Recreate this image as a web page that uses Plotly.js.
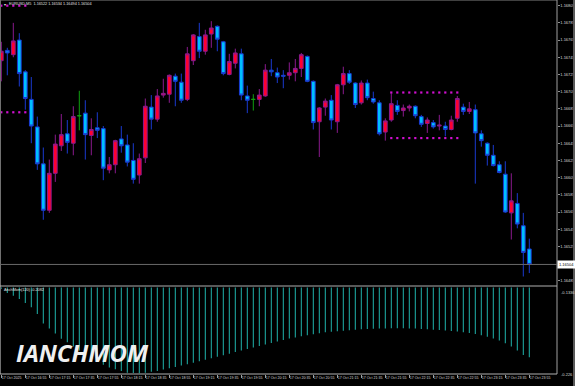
<!DOCTYPE html>
<html><head><meta charset="utf-8">
<script src="https://cdn.plot.ly/plotly-3.0.1.min.js"></script>
<style>html,body{margin:0;padding:0;background:#000;}#chart{width:575px;height:386px;}</style>
</head><body><div id="chart"></div>
<script>
const symbol = 'EURUSD,M5';
const timeLabels = ['17 Oct 2025','17 Oct 16:55','17 Oct 17:15','17 Oct 17:35','17 Oct 17:55','17 Oct 18:15','17 Oct 18:35','17 Oct 18:55','17 Oct 19:15','17 Oct 19:35','17 Oct 19:55','17 Oct 20:15','17 Oct 20:35','17 Oct 20:55','17 Oct 21:15','17 Oct 21:35','17 Oct 21:55','17 Oct 22:15','17 Oct 22:35','17 Oct 22:55','17 Oct 23:15','17 Oct 23:35','17 Oct 23:55'];

const openP = [1.16741,1.16753,1.16748,1.16765,1.16728,1.16696,1.16664,1.16621,1.16567,1.16610,
1.16642,1.16656,1.16645,1.16677,1.16680,1.16654,1.16663,1.16662,1.16614,1.16620,
1.16650,1.16643,1.16625,1.16608,1.16628,1.16687,1.16673,1.16701,1.16702,1.16723,
1.16716,1.16696,1.16741,1.16769,1.16752,1.16772,1.16781,1.16763,1.16725,1.16738,
1.16749,1.16700,1.16696,1.16696,1.16700,1.16730,1.16727,1.16724,1.16724,1.16727,
1.16732,1.16746,1.16717,1.16670,1.16687,1.16695,1.16670,1.16713,1.16726,1.16715,
1.16692,1.16715,1.16697,1.16692,1.16658,1.16672,1.16689,1.16683,1.16686,1.16688,
1.16676,1.16668,1.16669,1.16665,1.16665,1.16661,1.16674,1.16687,1.16682,1.16684,
1.16656,1.16645,1.16631,1.16620,1.16609,1.16564,1.16575,1.16549,1.16522];
const highP = [1.16763,1.16756,1.16785,1.16773,1.16730,1.16722,1.16676,1.16640,1.16626,1.16655,
1.16679,1.16672,1.16688,1.16706,1.16695,1.16674,1.16681,1.16665,1.16629,1.16649,
1.16665,1.16655,1.16645,1.16633,1.16697,1.16701,1.16708,1.16720,1.16725,1.16726,
1.16726,1.16757,1.16772,1.16785,1.16777,1.16787,1.16782,1.16764,1.16749,1.16755,
1.16755,1.16712,1.16702,1.16708,1.16737,1.16743,1.16733,1.16730,1.16739,1.16743,
1.16750,1.16747,1.16718,1.16687,1.16697,1.16701,1.16714,1.16734,1.16730,1.16716,
1.16718,1.16719,1.16705,1.16695,1.16674,1.16703,1.16695,1.16690,1.16690,1.16689,
1.16678,1.16675,1.16672,1.16678,1.16670,1.16677,1.16700,1.16691,1.16693,1.16690,
1.16660,1.16646,1.16643,1.16624,1.16624,1.16610,1.16587,1.16564,1.16534];
const lowP = [1.16717,1.16724,1.16745,1.16711,1.16684,1.16645,1.16614,1.16556,1.16564,1.16600,
1.16636,1.16633,1.16631,1.16660,1.16626,1.16631,1.16651,1.16602,1.16610,1.16610,
1.16634,1.16618,1.16598,1.16598,1.16622,1.16661,1.16670,1.16698,1.16692,1.16688,
1.16692,1.16694,1.16736,1.16744,1.16748,1.16756,1.16752,1.16724,1.16724,1.16732,
1.16695,1.16680,1.16683,1.16688,1.16699,1.16723,1.16715,1.16709,1.16719,1.16717,
1.16722,1.16716,1.16661,1.16629,1.16677,1.16661,1.16657,1.16702,1.16714,1.16686,
1.16690,1.16695,1.16691,1.16654,1.16648,1.16670,1.16678,1.16676,1.16682,1.16674,
1.16664,1.16657,1.16662,1.16660,1.16653,1.16660,1.16670,1.16678,1.16679,1.16598,
1.16641,1.16619,1.16618,1.16610,1.16564,1.16533,1.16546,1.16490,1.16494];
const closeP = [1.16752,1.16750,1.16764,1.16726,1.16697,1.16665,1.16621,1.16567,1.16610,1.16644,
1.16655,1.16646,1.16676,1.16677,1.16655,1.16661,1.16660,1.16616,1.16620,1.16648,
1.16642,1.16623,1.16603,1.16627,1.16688,1.16673,1.16700,1.16703,1.16724,1.16717,
1.16695,1.16749,1.16771,1.16752,1.16771,1.16779,1.16766,1.16726,1.16740,1.16750,
1.16701,1.16695,1.16696,1.16701,1.16730,1.16728,1.16722,1.16723,1.16727,1.16732,
1.16748,1.16717,1.16669,1.16686,1.16694,1.16672,1.16713,1.16726,1.16716,1.16690,
1.16715,1.16698,1.16693,1.16656,1.16671,1.16691,1.16682,1.16686,1.16688,1.16677,
1.16667,1.16672,1.16664,1.16666,1.16661,1.16672,1.16697,1.16682,1.16685,1.16657,
1.16648,1.16631,1.16619,1.16611,1.16565,1.16578,1.16551,1.16518,1.16504];

const momName = 'AnchMom(120)';
const momVals = [-0.1350,-0.1394,-0.1423,-0.1459,-0.1502,-0.1546,-0.1619,-0.1720,-0.1774,-0.1828,
-0.1883,-0.1920,-0.1966,-0.2010,-0.2046,-0.2089,-0.2126,-0.2162,-0.2191,-0.2209,
-0.2227,-0.2246,-0.2249,-0.2252,-0.2246,-0.2235,-0.2227,-0.2213,-0.2198,-0.2184,
-0.2170,-0.2155,-0.2140,-0.2124,-0.2108,-0.2091,-0.2075,-0.2059,-0.2043,-0.2026,
-0.2010,-0.1994,-0.1977,-0.1961,-0.1945,-0.1928,-0.1912,-0.1896,-0.1880,-0.1869,
-0.1858,-0.1847,-0.1836,-0.1825,-0.1814,-0.1809,-0.1803,-0.1798,-0.1793,-0.1787,
-0.1782,-0.1778,-0.1776,-0.1774,-0.1773,-0.1771,-0.1771,-0.1771,-0.1773,-0.1775,
-0.1778,-0.1782,-0.1786,-0.1790,-0.1796,-0.1801,-0.1807,-0.1814,-0.1823,-0.1834,
-0.1847,-0.1863,-0.1880,-0.1901,-0.1931,-0.1966,-0.2010,-0.2057,-0.2082];
const momAxisMax = -0.1336, momAxisMin = -0.226;

const boxStart = [0, 65], boxEnd = [4, 76];
const boxHigh = [1.16805, 1.16704], boxLow = [1.16681, 1.16651];

const idx = openP.map((_, i) => i);
const doji = i => openP[i] === closeP[i];
const sel = (arr, keep) => idx.filter(keep).map(i => arr[i]);
const notDoji = i => !doji(i);
const last = idx.length - 1;

const dotX = [], dotY = [];
boxStart.forEach((s, b) => {
  for (let k = s; k <= boxEnd[b]; k++) { dotX.push(k, k); dotY.push(boxHigh[b], boxLow[b]); }
});

const F = 'Liberation Sans';
const tickLab = {size: 4, color: '#d8d8d8', family: F};

const traces = [
  {type: 'candlestick', x: sel(idx, notDoji), open: sel(openP, notDoji), high: sel(highP, notDoji),
   low: sel(lowP, notDoji), close: sel(closeP, notDoji), xaxis: 'x', yaxis: 'y', hoverinfo: 'skip',
   increasing: {line: {color: '#8a1a8e', width: 1}, fillcolor: '#ff0030'},
   decreasing: {line: {color: '#1a3ad0', width: 1}, fillcolor: '#00bfff'}},
  {type: 'candlestick', x: sel(idx, doji), open: sel(openP, doji), high: sel(highP, doji),
   low: sel(lowP, doji), close: sel(closeP, doji), xaxis: 'x', yaxis: 'y', hoverinfo: 'skip',
   increasing: {line: {color: '#10a010', width: 1}, fillcolor: '#10a010'},
   decreasing: {line: {color: '#10a010', width: 1}, fillcolor: '#10a010'}},
  {type: 'scatter', mode: 'markers', x: dotX, y: dotY, xaxis: 'x', yaxis: 'y', hoverinfo: 'skip',
   marker: {symbol: 'square', size: 2.2, color: '#d010d0', line: {width: 0}}},
  {type: 'bar', x: idx, y: momVals, xaxis: 'x2', yaxis: 'y2', width: 0.17, hoverinfo: 'skip',
   marker: {color: '#20b2aa', line: {width: 0}}}
];

const plotH = 386 - 12;
const xr = [-1.3 / 6, -1.3 / 6 + 557 / 6];
const layout = {
  width: 575, height: 386, margin: {l: 0, r: 18, t: 0, b: 12, pad: 0},
  paper_bgcolor: '#000', plot_bgcolor: '#000', showlegend: false,
  boxgap: 0.38, boxgroupgap: 0,
  xaxis: {domain: [0, 1], anchor: 'y', range: xr, showticklabels: false, showgrid: false,
    zeroline: false, ticks: '', rangeslider: {visible: false}, fixedrange: true},
  yaxis: {domain: [1 - 285 / plotH, 1], anchor: 'x', side: 'right',
    range: [1.164801, 1.168116], tick0: 1.16805, dtick: 0.0002, tickformat: '.5f',
    showgrid: false, zeroline: false, ticks: 'outside', ticklen: 1.5, tickcolor: '#909090',
    tickfont: tickLab},
  xaxis2: {domain: [0, 1], anchor: 'y2', range: xr, tickmode: 'array',
    tickvals: idx.filter(i => i % 4 === 0), ticktext: timeLabels, tickangle: 0,
    ticks: 'outside', ticklen: 3, tickcolor: '#a0a0a0', ticklabelposition: 'outside right',
    tickfont: {size: 3.6, color: '#d8d8d8', family: F}, showgrid: false, zeroline: false},
  yaxis2: {domain: [0, (plotH - 287.5) / plotH], anchor: 'x2', side: 'right',
    range: [momAxisMin, momAxisMax], showticklabels: false, showgrid: false, zeroline: false, ticks: ''},
  shapes: [
    {type: 'line', xref: 'paper', yref: 'paper', x0: 0, x1: 1, y0: 1, y1: 1, line: {color: '#808080', width: 1}},
    {type: 'line', xref: 'paper', yref: 'paper', x0: 0.0009, x1: 0.0009, y0: 0, y1: 1, line: {color: '#707070', width: 1}},
    {type: 'line', xref: 'paper', yref: 'paper', x0: 1, x1: 1, y0: 0, y1: 1, line: {color: '#a0a0a0', width: 1}},
    {type: 'line', xref: 'paper', yref: 'paper', x0: 0, x1: 1, y0: (plotH - 286) / plotH, y1: (plotH - 286) / plotH, line: {color: '#b0b0b0', width: 1}},
    {type: 'line', xref: 'paper', yref: 'paper', x0: 0, x1: 1, y0: 0, y1: 0, line: {color: '#b0b0b0', width: 1}},
    {type: 'line', xref: 'paper', yref: 'y', x0: 0, x1: 1, y0: closeP[last], y1: closeP[last], line: {color: '#6a6a6a', width: 1}},
    {type: 'rect', xref: 'paper', yref: 'paper', x0: 573 / 557, x1: 575 / 557, y0: -12 / plotH, y1: 1, line: {width: 0}, fillcolor: '#5a5a5a'}
  ],
  annotations: [
    {xref: 'paper', yref: 'paper', x: 2 / 557, y: 1 - 4 / plotH, xanchor: 'left', yanchor: 'middle', showarrow: false,
     text: '▾', font: {size: 4, color: '#e0e0e0', family: F}},
    {xref: 'paper', yref: 'paper', x: 6.5 / 557, y: 1 - 4 / plotH, xanchor: 'left', yanchor: 'middle', showarrow: false,
     text: symbol + '  ' + [openP[last], highP[last], lowP[last], closeP[last]].map(v => v.toFixed(5)).join(' '),
     font: {size: 3.8, color: '#e0e0e0', family: F}},
    {xref: 'paper', yref: 'paper', x: 2 / 557, y: (plotH - 290) / plotH, xanchor: 'left', yanchor: 'middle', showarrow: false,
     text: momName + ' ' + momVals[last].toFixed(4), font: {size: 3.8, color: '#e0e0e0', family: F}},
    {xref: 'paper', yref: 'paper', x: 1, xshift: 1.5, y: (plotH - 287.5) / plotH, xanchor: 'left', yanchor: 'top', showarrow: false,
     text: momAxisMax.toFixed(4), font: tickLab},
    {xref: 'paper', yref: 'paper', x: 1, xshift: 1.5, y: 0, xanchor: 'left', yanchor: 'middle', showarrow: false,
     text: String(momAxisMin), font: tickLab},
    {xref: 'paper', yref: 'y', x: 1, y: closeP[last], xanchor: 'left', yanchor: 'middle', showarrow: false,
     text: closeP[last].toFixed(5), bgcolor: '#ffffff', borderpad: 1, font: {size: 4, color: '#000000', family: F}},
    {xref: 'paper', yref: 'paper', x: 14 / 557, y: (plotH - 352) / plotH, xanchor: 'left', yanchor: 'middle', showarrow: false,
     text: '<b><i>IANCHMOM</i></b>', font: {size: 24, color: '#f0f0f0', family: 'Open Sans'}}
  ]
};

Plotly.newPlot('chart', traces, layout, {staticPlot: true, displayModeBar: false});
</script>
</body></html>
